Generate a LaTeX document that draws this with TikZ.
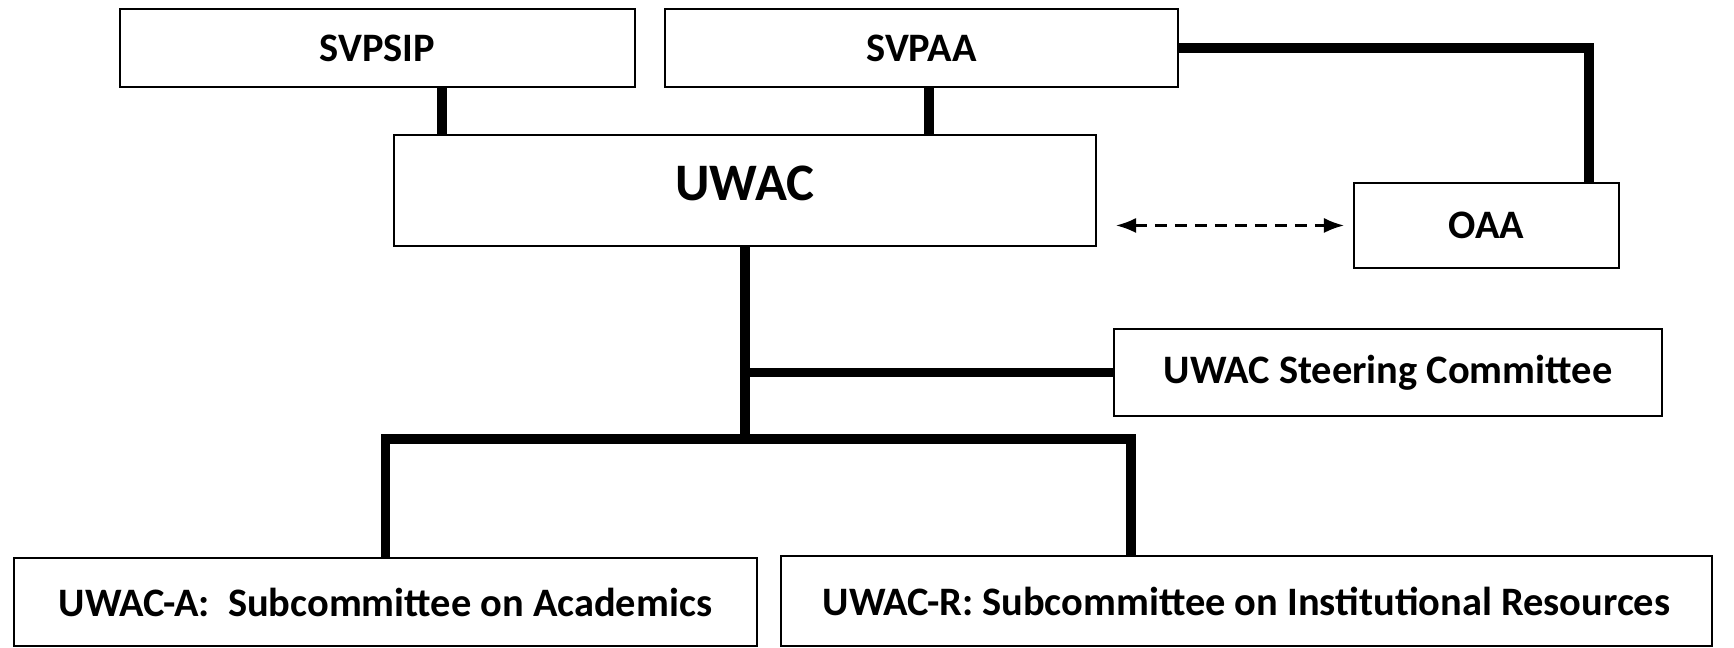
\documentclass[tikz,border=0pt]{standalone}
\usepackage{fontspec}
\setmainfont{Carlito}
\usepackage{tikz}
\usetikzlibrary{positioning, arrows.meta}

\begin{document}
\begin{tikzpicture}[>=Latex,
    box/.style={draw, line width=0.6pt, inner sep=0pt, outer sep=0pt,
      font=\bfseries\fontsize{11.5}{13}\selectfont},
    bar/.style={line width=2.8pt},
    dasharrow/.style={<->, line width=0.6pt, dash pattern=on 1.2mm off 0.8mm,
      shorten <=2mm, shorten >=1mm}]
    \useasboundingbox (0,0) rectangle (17.34,6.48);

    % Boxes
    \node[box, minimum width=5.15cm, minimum height=0.78cm] (svpsip) at (3.775,6.0) {SVPSIP};
    \node[box, minimum width=5.13cm, minimum height=0.78cm] (svpaa) at (9.215,6.0) {SVPAA};
    \node[box, minimum width=7.02cm, minimum height=1.11cm,
      font=\bfseries\fontsize{15}{17}\selectfont] (uwac) at (7.45,4.575) {\raisebox{1.5mm}{UWAC}};
    \node[box, minimum width=2.65cm, minimum height=0.85cm] (oaa) at (14.865,4.225) {OAA};
    \node[box, minimum width=5.48cm, minimum height=0.87cm] (steer) at (13.88,2.755) {UWAC Steering Committee};
    \node[box, minimum width=7.43cm, minimum height=0.88cm] (subA) at (3.855,0.46) {UWAC-A:\ \ Subcommittee on Academics};
    \node[box, minimum width=9.31cm, minimum height=0.90cm] (subR) at (12.465,0.47) {UWAC-R: Subcommittee on Institutional Resources};

    % Helper points
    \path (svpsip.south) ++(0.645,0) coordinate (a1);
    \path (svpaa.south) ++(0.075,0) coordinate (a2);
    \path (oaa.north) ++(1.025,0) coordinate (o1);
    \path (subR.north) ++(-1.155,0) coordinate (r1);
    \coordinate (hub) at (uwac.south |- 0,2.09);

    % Lines
    \draw[bar] (a1) -- (a1 |- uwac.north);
    \draw[bar] (a2) -- (a2 |- uwac.north);
    \draw[bar] (svpaa.east) -| (o1);
    \draw[dasharrow] (oaa.west -| uwac.east) -- (oaa.west);
    \draw[bar] (uwac.south) -- (hub);
    \draw[bar] (uwac.south |- steer.west) -- (steer.west);
    \draw[bar] (subA.north) |- (hub) -| (r1);
\end{tikzpicture}
\end{document}
